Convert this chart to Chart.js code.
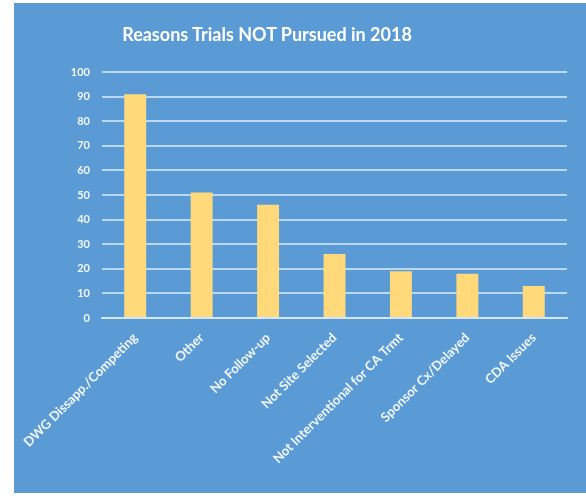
<!DOCTYPE html>
<html>
<head>
<meta charset="utf-8">
<script src="https://cdn.jsdelivr.net/npm/chart.js@4"></script>
<style>
  body { margin: 0; background: #ffffff; }
  #wrap { position: absolute; left: 14px; top: 3px; width: 572px; height: 490px; background: #5b9bd5; }
  #title {
    position: absolute; left: 0; top: 20px; width: 506px; line-height: 22px;
    text-align: center; color: #ffffff;
    font: bold 18px Lato, "Open Sans", sans-serif;
  }
  canvas { position: absolute; left: 0; top: 0; }
</style>
</head>
<body>
<div id="wrap">
  <canvas id="reasonsChart" width="572" height="490"></canvas>
  <div id="title">Reasons Trials NOT Pursued in 2018</div>
</div>
<script>
const categories = [
  "DWG Dissapp./Competing",
  "Other",
  "No Follow-up",
  "Not Site Selected",
  "Not Interventional for CA Trmt",
  "Sponsor Cx/Delayed",
  "CDA Issues",
];
const trialCounts = [91, 51, 46, 26, 19, 18, 13];
const yTicks = [0, 10, 20, 30, 40, 50, 60, 70, 80, 90, 100];

const fontFamily = "Lato, 'Open Sans', sans-serif";

new Chart(document.getElementById("reasonsChart"), {
  type: "bar",
  data: {
    labels: categories,
    datasets: [
      {
        label: "Reasons",
        data: trialCounts,
        backgroundColor: "#ffd97a",
        barPercentage: 0.33,
        categoryPercentage: 1,
      },
    ],
  },
  options: {
    responsive: false,
    animation: false,
    layout: { padding: { left: 0, right: 19, top: 69, bottom: 0 } },
    plugins: {
      legend: { display: false },
      tooltip: { enabled: false },
      title: { display: false },
    },
    scales: {
      y: {
        min: 0,
        max: 100,
        afterBuildTicks: (scale) => {
          scale.ticks = yTicks.map((v) => ({ value: v }));
        },
        afterFit: (scale) => {
          scale.width = 88;
        },
        grid: {
          color: "rgba(220, 235, 250, 0.75)",
          lineWidth: 2,
          drawTicks: false,
        },
        border: { display: false },
        ticks: {
          color: "#f2f6fb",
          padding: 12,
          font: { family: fontFamily, size: 11, weight: "bold" },
        },
      },
      x: {
        afterFit: (scale) => {
          scale.height = 175;
          scale.paddingLeft = 0;
          scale.paddingRight = 0;
        },
        grid: { display: false },
        border: { color: "rgba(220, 235, 250, 0.75)", width: 2 },
        ticks: {
          color: "#f2f6fb",
          maxRotation: 45,
          minRotation: 45,
          padding: 4,
          font: { family: fontFamily, size: 13, weight: "bold" },
        },
      },
    },
  },
});
</script>
</body>
</html>
